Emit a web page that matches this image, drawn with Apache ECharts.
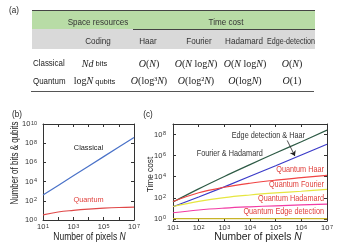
<!DOCTYPE html>
<html><head><meta charset="utf-8">
<script src="https://cdn.jsdelivr.net/npm/echarts@6/dist/echarts.min.js"></script>
<style>html,body{margin:0;padding:0;background:#fff;}#chart{width:346px;height:248px;}</style>
</head><body><div id="chart"></div>
<script>
// ---------------- data ----------------
const pixelCounts = [1e1, 1e2, 1e3, 1e4, 1e5, 1e6, 1e7];
// panel (b)
const classicalBits = [400, 4e3, 4e4, 4e5, 4e6, 4e7, 4e8];
const quantumQubits = [3.4, 6.8, 10, 13.5, 17, 20, 22];
// panel (c)
const fourierHadamardCost = [40, 700, 1.05e4, 1.4e5, 1.75e6, 2.1e7, 2.6e8];
const edgeHaarCost = [14, 120, 1.1e3, 1.1e4, 1.1e5, 1.15e6, 1.2e7];
const quantumHaarCost = [44, 300, 1000, 2400, 4700, 8100, 13500];
const quantumFourierCost = [15, 46, 105, 185, 290, 420, 620];
const quantumHadamardCost = [3.8, 7, 10.5, 14, 17.5, 21, 25];
const quantumEdgeCost = [1.05, 1.05, 1.05, 1.05, 1.05, 1.05, 1.05];
// tick label exponents
const bXLabelExps = [1, 3, 5, 7];
const bYLabelExps = [0, 2, 4, 6, 8, 10];
const cXLabelExps = [1, 2, 3, 4, 5, 6, 7];
const cYLabelExps = [0, 2, 4, 6, 8];
// table (a)
const tableTopHeads = ['Space resources', 'Time cost'];
const tableSubHeads = ['Coding', 'Haar', 'Fourier', 'Hadamard', 'Edge-detection'];
const tableRowNames = ['Classical', 'Quantum'];
const classicalRow = ['{i|Nd}{s| bits}', '{i|O}{r|(}{i|N}{r|)}', '{i|O}{r|(}{i|N}{r| log}{i|N}{r|)}', '{i|O}{r|(}{i|N}{r| log}{i|N}{r|)}', '{i|O}{r|(}{i|N}{r|)}'];
const quantumRow = ['{r|log}{i|N}{s| qubits}', '{i|O}{r|(log³}{i|N}{r|)}', '{i|O}{r|(log²}{i|N}{r|)}', '{i|O}{r|(log}{i|N}{r|)}', '{i|O}{r|(1)}'];

// ---------------- chart ----------------
const chart = echarts.init(document.getElementById('chart'), null, {renderer: 'canvas'});
const lg = Math.log10;
const pts = arr => arr.map((v, i) => [lg(pixelCounts[i]), lg(v)]);
const AX = '#333';
const SANS = 'Liberation Sans';
const SERIF = 'Liberation Serif';
const supRich = {
  b: {fontSize: 7.5, fontFamily: SANS, color: AX, lineHeight: 8, padding: [3, 0, 0, 0], verticalAlign: 'bottom'},
  s: {fontSize: 5.5, fontFamily: SANS, color: AX, lineHeight: 6, padding: [0, 0, 0, 0.5], verticalAlign: 'top'}
};
const supFmt = v => '{b|10}{s|' + Math.round(v) + '}';

function axisCommon(extra) {
  return Object.assign({
    type: 'value',
    axisLine: {show: true, onZero: false, lineStyle: {color: AX, width: 1}},
    axisTick: {show: true, inside: true, length: 3, lineStyle: {color: AX, width: 1}},
    splitLine: {show: false},
  }, extra);
}

const xAxes = [
  axisCommon({gridIndex: 0, min: 1, max: 7, interval: 1,
    axisLabel: {customValues: bXLabelExps, formatter: supFmt, rich: supRich, margin: 3}}),
  axisCommon({gridIndex: 0, position: 'top', min: 1, max: 7, interval: 1, axisLabel: {show: false}}),
  axisCommon({gridIndex: 1, min: 1, max: 7, interval: 1,
    axisLabel: {customValues: cXLabelExps, formatter: supFmt, rich: supRich, margin: 3}}),
  axisCommon({gridIndex: 1, position: 'top', min: 1, max: 7, interval: 1, axisLabel: {show: false}})
];
const yAxes = [
  axisCommon({gridIndex: 0, min: 0, max: 10, interval: 2,
    axisLabel: {formatter: supFmt, rich: supRich, margin: 6}}),
  axisCommon({gridIndex: 0, position: 'right', min: 0, max: 10, interval: 2, axisLabel: {show: false}}),
  axisCommon({gridIndex: 1, min: -0.2, max: 9,
    axisTick: {show: true, inside: true, length: 3, customValues: cYLabelExps, lineStyle: {color: AX, width: 1}},
    axisLabel: {customValues: cYLabelExps, formatter: supFmt, rich: supRich, margin: 7}}),
  axisCommon({gridIndex: 1, position: 'right', min: -0.2, max: 9,
    axisTick: {show: true, inside: true, length: 3, customValues: cYLabelExps, lineStyle: {color: AX, width: 1}},
    axisLabel: {show: false}})
];

function line(name, data, color, xi, yi, extra) {
  return Object.assign({
    name, type: 'line', data: pts(data), xAxisIndex: xi, yAxisIndex: yi,
    symbol: 'none', smooth: 0.4, lineStyle: {color, width: 1.2}, itemStyle: {color},
    emphasis: {disabled: true}, silent: true, z: 3
  }, extra || {});
}

const series = [
  line('Classical', classicalBits, '#4a72c8', 0, 0, {smooth: false}),
  line('Quantum', quantumQubits, '#e04848', 0, 0),
  line('Fourier & Hadamard', fourierHadamardCost, '#2d5a45', 2, 2),
  line('Edge detection & Haar', edgeHaarCost, '#3a3ac8', 2, 2, {
    smooth: false,
    markLine: {silent: true, symbol: ['none', 'arrow'], symbolSize: 5, animation: false,
      lineStyle: {color: '#222', width: 0.8, type: 'solid'}, label: {show: false},
      data: [[{coord: [5.45, 7.44]}, {coord: [5.75, 5.96]}]]}
  }),
  line('Quantum Haar', quantumHaarCost, '#f04444', 2, 2),
  line('Quantum Fourier', quantumFourierCost, '#e6e640', 2, 2),
  line('Quantum Hadamard', quantumHadamardCost, '#f23ca4', 2, 2),
  line('Quantum Edge detection', quantumEdgeCost, '#c8b428', 2, 2, {smooth: false})
];

// ---------------- text / table graphics ----------------
function txt(x, y, text, size, sx, color, opts) {
  opts = opts || {};
  return {
    type: 'text', x, y, scaleX: sx, rotation: opts.rotation || 0, z: 10, silent: true,
    style: Object.assign({
      text, fontSize: size, fontFamily: SANS, fill: color,
      align: opts.align || 'center', verticalAlign: 'middle'
    }, opts.style || {})
  };
}
const mathRich = {
  i: {fontFamily: SERIF, fontStyle: 'italic', fontSize: 10, color: '#222'},
  r: {fontFamily: SERIF, fontSize: 10, color: '#222'},
  s: {fontFamily: SANS, fontSize: 7.5, color: '#222'}
};
const RED = '#e0403c';
const graphics = [
  {type: 'rect', shape: {x: 32, y: 10, width: 283, height: 19}, style: {fill: '#b8dca6'}, silent: true},
  {type: 'rect', shape: {x: 32, y: 29, width: 283, height: 20}, style: {fill: '#d9d9d9'}, silent: true},
  {type: 'line', shape: {x1: 32, y1: 10.5, x2: 315, y2: 10.5}, style: {stroke: '#444', lineWidth: 1}, silent: true},
  {type: 'line', shape: {x1: 133, y1: 29.5, x2: 315, y2: 29.5}, style: {stroke: '#444', lineWidth: 1}, silent: true},
  {type: 'line', shape: {x1: 31, y1: 91.5, x2: 314, y2: 91.5}, style: {stroke: '#555', lineWidth: 1}, silent: true},
  txt(14, 11, '(a)', 9, 0.9, '#222'),
  txt(17, 115, '(b)', 9, 0.9, '#222'),
  txt(148, 115, '(c)', 9, 0.9, '#222')
];
const topX = [98, 226];
tableTopHeads.forEach((t, i) => graphics.push(txt(topX[i], 22.5, t, 8.8, 0.92, '#333')));
const subX = [98, 148, 199, 244, 291];
tableSubHeads.forEach((t, i) => graphics.push(txt(subX[i], 41.5, t, 8.8, i === 4 ? 0.81 : 0.92, '#333')));
graphics.push(txt(33, 64, tableRowNames[0], 8.8, 0.9, '#222', {align: 'left'}));
graphics.push(txt(33, 81.5, tableRowNames[1], 8.8, 0.9, '#222', {align: 'left'}));
const colX = [94.5, 149, 196, 245, 292];
classicalRow.forEach((t, i) => graphics.push(txt(colX[i], 64, t, 10, 1, '#222', {style: {rich: mathRich}})));
quantumRow.forEach((t, i) => graphics.push(txt(colX[i], 81.5, t, 10, 1, '#222', {style: {rich: mathRich}})));

// axis titles
const titleRich = {i: {fontFamily: SANS, fontStyle: 'italic', fontSize: 10.5, fill: '#222', color: '#222'}};
graphics.push(txt(89.5, 237, 'Number of pixels {i|N}', 10.5, 0.81, '#222', {style: {rich: titleRich}}));
graphics.push(txt(258, 237, 'Number of pixels {i|N}', 10.5, 0.98, '#222', {style: {rich: titleRich}}));
graphics.push(txt(15, 163, 'Number of bits & qubits', 10, 0.8, '#222', {rotation: Math.PI / 2}));
graphics.push(txt(150, 174.5, 'Time cost', 9.5, 0.87, '#222', {rotation: Math.PI / 2}));

// annotations
graphics.push(txt(88.5, 148, 'Classical', 7.8, 0.94, '#222'));
graphics.push(txt(88.5, 200, 'Quantum', 7.8, 0.94, RED));
graphics.push(txt(231.7, 136, 'Edge detection & Haar', 8.4, 0.87, '#333', {align: 'left'}));
graphics.push(txt(196.7, 154, 'Fourier & Hadamard', 8.4, 0.87, '#333', {align: 'left'}));
graphics.push(txt(324, 169.5, 'Quantum Haar', 8.4, 0.87, RED, {align: 'right'}));
graphics.push(txt(324, 184.5, 'Quantum Fourier', 8.4, 0.87, RED, {align: 'right'}));
graphics.push(txt(324, 199, 'Quantum Hadamard', 8.4, 0.87, RED, {align: 'right'}));
graphics.push(txt(324, 212, 'Quantum Edge detection', 8.4, 0.87, RED, {align: 'right'}));

chart.setOption({
  animation: false,
  backgroundColor: '#fff',
  grid: [
    {left: 43, top: 124, width: 91, height: 96, containLabel: false},
    {left: 173, top: 124, width: 154, height: 97, containLabel: false}
  ],
  xAxis: xAxes,
  yAxis: yAxes,
  series,
  graphic: graphics
});
</script>
</body></html>
